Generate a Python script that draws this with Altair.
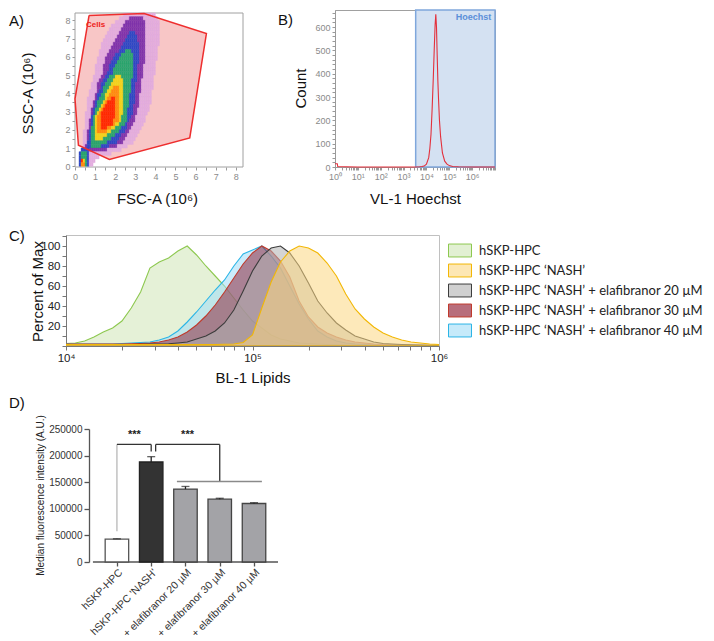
import altair as alt
import pandas as pd

FONT = "Liberation Sans"

# ---------------- Panel A: FSC/SSC density with "Cells" gate ----------------
A_gate_x = [0.70, 3.44, 6.54, 5.71, 1.71, 0.17, 0.00, 0.70]
A_gate_y = [8.27, 8.37, 7.27, 1.55, 0.37, 1.15, 3.70, 8.27]
A_frame = [0.0, 8.36, -0.04, 8.4]
# density: (row centre y, [(level, x from, x to), ...])
A_rows = [
    (8.3, [(1, 2.4, 4.0)]),
    (8.1, [(1, 2.2, 4.1), (2, 2.7, 3.4)]),
    (7.9, [(1, 2.0, 4.15), (2, 2.5, 3.5)]),
    (7.7, [(1, 1.85, 4.2), (2, 2.4, 3.55)]),
    (7.5, [(1, 1.7, 4.2), (2, 2.3, 3.55)]),
    (7.3, [(1, 1.6, 4.2), (2, 2.2, 3.55), (3, 2.7, 3.0)]),
    (7.1, [(1, 1.5, 4.2), (2, 2.1, 3.55), (3, 2.6, 3.1)]),
    (6.9, [(1, 1.45, 4.15), (2, 2.0, 3.55), (3, 2.5, 3.15)]),
    (6.7, [(1, 1.35, 4.15), (2, 1.9, 3.55), (3, 2.4, 3.2)]),
    (6.5, [(1, 1.3, 4.1), (2, 1.85, 3.5), (3, 2.3, 3.2)]),
    (6.3, [(1, 1.25, 4.1), (2, 1.75, 3.5), (3, 2.2, 3.2), (4, 2.5, 2.8)]),
    (6.1, [(1, 1.2, 4.1), (2, 1.65, 3.5), (3, 2.05, 3.2), (4, 2.35, 2.85)]),
    (5.9, [(1, 1.15, 4.05), (2, 1.55, 3.45), (3, 1.9, 3.2), (4, 2.2, 2.9)]),
    (5.7, [(1, 1.1, 4.0), (2, 1.5, 3.45), (3, 1.8, 3.2), (4, 2.1, 2.9)]),
    (5.5, [(1, 1.05, 4.0), (2, 1.45, 3.4), (3, 1.75, 3.15), (4, 2.0, 2.9)]),
    (5.3, [(1, 1.0, 4.0), (2, 1.4, 3.4), (3, 1.7, 3.15), (4, 1.95, 2.9)]),
    (5.1, [(1, 0.98, 3.95), (2, 1.38, 3.38), (3, 1.64, 3.13), (4, 1.89, 2.89)]),
    (4.9, [(1, 0.92, 3.93), (2, 1.3, 3.35), (3, 1.55, 3.1), (4, 1.75, 2.85), (5, 2.0, 2.3)]),
    (4.7, [(1, 0.87, 3.9), (2, 1.22, 3.33), (3, 1.45, 3.08), (4, 1.62, 2.82), (5, 1.9, 2.35)]),
    (4.5, [(1, 0.82, 3.88), (2, 1.15, 3.3), (3, 1.33, 3.05), (4, 1.5, 2.8), (5, 1.82, 2.39)]),
    (4.3, [(1, 0.78, 3.86), (2, 1.1, 3.28), (3, 1.26, 3.03), (4, 1.43, 2.78), (5, 1.75, 2.39), (6, 1.95, 2.2)]),
    (4.1, [(1, 0.74, 3.84), (2, 1.06, 3.26), (3, 1.2, 3.01), (4, 1.36, 2.76), (5, 1.65, 2.39), (6, 1.8, 2.22)]),
    (3.9, [(1, 0.69, 3.82), (2, 1.02, 3.24), (3, 1.13, 2.99), (4, 1.3, 2.74), (5, 1.55, 2.39), (6, 1.7, 2.22)]),
    (3.7, [(1, 0.65, 3.8), (2, 0.98, 3.22), (3, 1.06, 2.97), (4, 1.23, 2.72), (5, 1.48, 2.39), (6, 1.64, 2.22), (7, 1.8, 2.02)]),
    (3.5, [(1, 0.63, 3.75), (2, 0.93, 3.2), (3, 1.01, 2.95), (4, 1.15, 2.7), (5, 1.38, 2.39), (6, 1.5, 2.22), (7, 1.65, 2.03)]),
    (3.3, [(1, 0.6, 3.7), (2, 0.88, 3.17), (3, 0.96, 2.92), (4, 1.07, 2.67), (5, 1.26, 2.39), (6, 1.36, 2.22), (7, 1.5, 2.05)]),
    (3.1, [(1, 0.58, 3.66), (2, 0.84, 3.14), (3, 0.92, 2.9), (4, 1.01, 2.65), (5, 1.18, 2.39), (6, 1.27, 2.22), (7, 1.4, 2.05)]),
    (2.9, [(1, 0.55, 3.6), (2, 0.8, 3.1), (3, 0.88, 2.85), (4, 0.96, 2.62), (5, 1.1, 2.37), (6, 1.2, 2.2), (7, 1.33, 2.02)]),
    (2.7, [(1, 0.52, 3.55), (2, 0.77, 3.05), (3, 0.85, 2.8), (4, 0.93, 2.6), (5, 1.05, 2.34), (6, 1.14, 2.17), (7, 1.3, 2.0)]),
    (2.5, [(1, 0.49, 3.49), (2, 0.74, 2.99), (3, 0.82, 2.74), (4, 0.91, 2.56), (5, 0.99, 2.32), (6, 1.1, 2.15), (7, 1.28, 1.95)]),
    (2.3, [(1, 0.47, 3.4), (2, 0.71, 2.9), (3, 0.79, 2.65), (4, 0.87, 2.45), (5, 0.98, 2.2), (6, 1.1, 2.0), (7, 1.3, 1.85)]),
    (2.1, [(1, 0.46, 3.3), (2, 0.68, 2.8), (3, 0.76, 2.56), (4, 0.84, 2.33), (5, 0.98, 2.0), (6, 1.12, 1.8), (7, 1.35, 1.6)]),
    (1.9, [(1, 0.45, 3.22), (2, 0.65, 2.72), (3, 0.73, 2.47), (4, 0.81, 2.22), (5, 0.98, 1.81), (6, 1.14, 1.56)]),
    (1.7, [(1, 0.43, 3.1), (2, 0.62, 2.6), (3, 0.7, 2.33), (4, 0.81, 2.0), (5, 1.0, 1.6)]),
    (1.5, [(1, 0.42, 3.0), (2, 0.59, 2.5), (3, 0.67, 2.2), (4, 0.81, 1.75), (5, 1.05, 1.35)]),
    (1.3, [(1, 0.4, 2.89), (2, 0.56, 2.39), (3, 0.65, 2.06), (4, 0.81, 1.56)]),
    (1.1, [(1, 0.4, 2.6), (2, 0.55, 2.1), (3, 0.62, 1.7), (4, 0.8, 1.3)]),
    (0.9, [(1, 0.35, 2.3), (2, 0.5, 1.6), (3, 0.3, 0.7)]),
    (0.7, [(1, 0.25, 1.8), (3, 0.25, 0.7), (4, 0.35, 0.55)]),
    (0.5, [(1, 0.2, 1.2), (3, 0.22, 0.72), (4, 0.3, 0.6)]),
    (0.3, [(1, 0.2, 1.0), (3, 0.22, 0.72), (4, 0.28, 0.6), (5, 0.3, 0.5), (7, 0.32, 0.42)]),
    (0.1, [(1, 0.2, 0.9), (3, 0.22, 0.7), (4, 0.28, 0.55), (6, 0.3, 0.45)]),
]
A_levels = [1, 2, 3, 4, 5, 6, 7]
A_level_colors = ["#e3addf", "#8034ac", "#3048c4", "#2ba56e", "#f2d31c", "#ff8c10", "#ff2a00"]
A_ticks = [0, 0.5, 1, 1.5, 2, 2.5, 3, 3.5, 4, 4.5, 5, 5.5, 6, 6.5, 7, 7.5, 8]

# ---------------- Panel B: Hoechst histogram ----------------
B_exp = [0.0, 0.1, 0.12, 0.5, 1.0, 2.0, 3.0, 3.5, 3.7, 3.8, 3.9, 4.0, 4.1, 4.15, 4.2, 4.25, 4.3,
         4.34, 4.38, 4.41, 4.44, 4.47, 4.5, 4.53, 4.57, 4.62, 4.7, 4.8, 4.9, 5.0, 5.15, 5.4, 6.0, 7.0]
B_count = [14, 14, 2, 1, 0, 0, 0, 0, 1, 2, 4, 12, 40, 80, 140, 250, 380,
           500, 610, 655, 600, 480, 370, 290, 200, 130, 60, 25, 12, 6, 2, 1, 0, 0]
B_gate_exp = [3.53, 7.0]
B_ymax = 673

# ---------------- Panel C: lipid histograms ----------------
C_exp = [4.00, 4.05, 4.10, 4.15, 4.20, 4.25, 4.30, 4.35, 4.40, 4.45, 4.50, 4.55, 4.60, 4.65,
         4.70, 4.75, 4.80, 4.85, 4.90, 4.95, 5.00, 5.05, 5.10, 5.15, 5.20, 5.25, 5.30, 5.35,
         5.40, 5.45, 5.50, 5.55, 5.60, 5.65, 5.70, 5.75, 5.80, 5.85, 5.90, 5.95, 6.00]
C_series = ["hSKP-HPC", "hSKP-HPC \u2018NASH\u2019",
            "hSKP-HPC \u2018NASH\u2019 + elafibranor 20 \u00b5M",
            "hSKP-HPC \u2018NASH\u2019 + elafibranor 30 \u00b5M",
            "hSKP-HPC \u2018NASH\u2019 + elafibranor 40 \u00b5M"]
C_ctrl = [2.5, 3, 5, 9, 14, 18, 25, 38, 54, 78, 84, 88, 95, 100, 91, 80, 70, 60, 48, 36,
          25, 18, 11, 7, 5, 3, 2.5, 2, 1.5, 1.2, 1, 1, 0.8, 0.8, 0.6, 0.6, 0.5, 0.5, 0.5, 0.5, 0.5]
C_nash = [1.5, 1.5, 1.5, 1.5, 1.5, 1.5, 1.5, 1.5, 1.5, 1.5, 1.5, 1.5, 1.5, 1.5, 1.5, 1.5, 1.5,
          1.8, 2, 3.5, 11, 38, 64, 84, 95, 100, 98, 93, 83, 70, 52, 37, 27, 19, 13, 9, 6, 4, 3, 2, 1.5]
C_e20 = [1.5, 1.5, 1.5, 1.5, 1.5, 1.5, 1.5, 1.5, 1.8, 2, 2, 2.2, 3, 4, 7, 10, 15, 23, 36, 55,
         75, 90, 98, 100, 93, 80, 63, 45, 33, 23, 16, 10, 7, 4, 2.5, 2, 1.5, 1.2, 1, 0.8, 0.6]
C_e30 = [2, 2, 2, 2, 2, 2, 2, 2.2, 2.5, 3, 4, 6, 9, 14, 21, 30, 41, 54, 68, 82,
         93, 100, 95, 85, 69, 45, 29, 19, 13, 9, 6, 4, 3, 2, 1.5, 1.2, 1, 0.8, 0.7, 0.6, 0.5]
C_e40 = [2, 2, 2, 2, 2, 2, 2.5, 3, 3.5, 4, 6, 9, 15, 24, 34, 45, 56, 66, 80, 92,
         96, 100, 90, 78, 60, 42, 27, 15, 9, 5, 3, 2, 1.5, 1.2, 1, 1, 0.8, 0.8, 0.6, 0.5, 0.5]
C_fill = ["#cfe6b6", "#fcd782", "#b1b1b1", "#902a40", "#a0dcf7"]
C_swatch = ["#e2f0d3", "#fde7b4", "#d0d0d0", "#b86e7c", "#c6eafa"]
C_stroke = ["#8dc84f", "#f2b705", "#3c3c3c", "#c0392b", "#2bb5e6"]
# drawing order of the overlaid histograms (bottom to top)
C_draw_order = [0, 4, 3, 2, 1]

# ---------------- Panel D: median fluorescence bars ----------------
D_groups = ["hSKP-HPC", "hSKP-HPC 'NASH'", "+ elafibranor 20 \u00b5M",
            "+ elafibranor 30 \u00b5M", "+ elafibranor 40 \u00b5M"]
D_pos = [0, 1, 2, 3, 4]
D_values = [43000, 188000, 137000, 118000, 110000]
D_errors = [600, 10000, 5000, 1800, 1500]
D_fill = ["#ffffff", "#333333", "#a3a3a7", "#a3a3a7", "#a3a3a7"]
D_stroke = ["#555555", "#222222", "#444444", "#444444", "#444444"]
D_xline = [-0.7, 4.7]
# significance brackets (x in bar index units, y in A.U.)
D_br_x = [0.0, 0.0, 1.0, 1.13, 1.13, 3.0, 1.75]
D_br_x2 = [0.0, 1.0, 1.0, 1.13, 3.0, 3.0, 4.23]
D_br_y = [57600, 221000, 221000, 207600, 221000, 221000, 151300]
D_br_y2 = [221000, 221000, 207600, 221000, 221000, 151300, 151300]
D_br_col = ["#b8b8b8", "#333333", "#333333", "#333333", "#333333", "#333333", "#8a8a8a"]
D_star_x = [0.51, 2.06]
D_star_y = [238000, 238000]
D_star_t = ["***", "***"]


SUP = {0: "\u2070", 1: "\u00b9", 2: "\u00b2", 3: "\u00b3", 4: "\u2074", 5: "\u2075", 6: "\u2076", 7: "\u2077"}


def sup_expr(exps):
    parts = [f"datum.value == {10 ** e} ? '10{SUP[e]}'" for e in exps]
    return " : ".join(parts) + " : ''"


def log_ticks(e0, e1):
    vals = []
    for e in range(e0, e1):
        for m in range(1, 10):
            vals.append(m * 10 ** e)
    vals.append(10 ** e1)
    return vals


def spacer(x, y):
    return alt.Chart(pd.DataFrame({"s": [0]})).mark_point(
        opacity=0, size=1, strokeWidth=0, filled=True
    ).encode(x=alt.value(x), y=alt.value(y))


def panel_label(text, x, y):
    return alt.Chart(pd.DataFrame({"t": [text]})).mark_text(
        align="left", baseline="top", fontSize=15, font=FONT, color="#111"
    ).encode(text="t:N", x=alt.value(x), y=alt.value(y))


LEFT_T = dict(titleAngle=270, titleBaseline="bottom", titleAlign="center")
BOTTOM_T = dict(titleBaseline="top", titleAlign="center")

# ================= Panel A =================
A_xs = alt.Scale(domain=[-0.448, 8.36], nice=False, zero=False)
A_ys = alt.Scale(domain=[-0.04, 8.565], nice=False, zero=False)
small_axis = dict(grid=False, tickSize=3, tickColor="#9a9a9a", domainColor="#9a9a9a",
                  labelColor="#8a8a8a", labelFontSize=9, labelFont=FONT, titleFont=FONT,
                  titleFontSize=15, titleFontWeight="normal", titleColor="#111")
A_lab = "datum.value % 1 == 0 ? format(datum.value, 'd') : ''"
A_xaxis = alt.Axis(values=A_ticks, labelExpr=A_lab, title="FSC-A (10\u2076)", titleY=24, titleX=91,
                   labelFlush=False, domain=False, **BOTTOM_T, **small_axis)
A_yaxis = alt.Axis(values=A_ticks, labelExpr=A_lab, title="SSC-A (10\u2076)", titleX=-40, titleY=83,
                   offset=-9, domain=False, **LEFT_T, **small_axis)


def AX(f):
    return alt.X(f, type="quantitative", scale=A_xs, axis=A_xaxis)


def AY(f):
    return alt.Y(f, type="quantitative", scale=A_ys, axis=A_yaxis)


gate_df = pd.DataFrame({"gx": A_gate_x, "gy": A_gate_y, "i": list(range(len(A_gate_x)))})
cells = []
for yc, ranges in A_rows:
    for k in range(50):
        xc = (k + 0.5) * 0.1
        lv = max([l for (l, a, b) in ranges if a <= xc <= b], default=0)
        if lv:
            cells.append({"x0": k * 0.1, "x1": (k + 1) * 0.1, "y0": yc - 0.1, "y1": yc + 0.1, "lvl": lv})
cells_df = pd.DataFrame(cells)

A_box = alt.Chart(pd.DataFrame({"x0": [A_frame[0]], "x1": [A_frame[1]], "y0": [A_frame[2]],
                                "y1": [A_frame[3]]})).mark_rect(
    fill="white", stroke="#a0a0a0", strokeWidth=1).encode(x=AX("x0"), x2="x1", y=AY("y0"), y2="y1")
A_fill = alt.Chart(gate_df).mark_line(fill="#f8c6c6", strokeOpacity=0).encode(
    x=AX("gx"), y=AY("gy"), order="i:Q")
A_cells = alt.Chart(cells_df).mark_rect(strokeWidth=0.4).encode(
    x=AX("x0"), x2="x1", y=AY("y0"), y2="y1",
    fill=alt.Fill("lvl:O", scale=alt.Scale(domain=A_levels, range=A_level_colors), legend=None),
    stroke=alt.Stroke("lvl:O", scale=alt.Scale(domain=A_levels, range=A_level_colors), legend=None))
A_line = alt.Chart(gate_df).mark_line(color="#ee2e2e", strokeWidth=1.5).encode(
    x=AX("gx"), y=AY("gy"), order="i:Q")
A_txt = alt.Chart(pd.DataFrame({"tx": [0.55], "ty": [7.75], "t": ["Cells"]})).mark_text(
    align="left", baseline="middle", fontSize=8, fontWeight="bold", color="#ee2020", font=FONT
).encode(x=AX("tx"), y=AY("ty"), text="t:N")

panelA = alt.layer(
    A_box, A_fill, A_cells, A_line, A_txt,
    panel_label("A)", -57, 4), spacer(-57, 2), spacer(0, 210)
).properties(width=177, height=157, view=alt.ViewBackground(stroke="transparent"))

# ================= Panel B =================
B_xs = alt.Scale(type="log", domain=[1, 10 ** 7], nice=False)
B_ys = alt.Scale(domain=[0, B_ymax], nice=False, zero=False)
B_xaxis = alt.Axis(values=log_ticks(0, 7), labelExpr=sup_expr([0, 1, 2, 3, 4, 5, 6]),
                   title="VL-1 Hoechst", titleY=24, titleX=80, labelFlush=False, labelOverlap=False,
                   **BOTTOM_T, **small_axis)
B_yaxis = alt.Axis(values=list(range(0, 661, 20)), labelExpr="datum.value % 100 == 0 ? datum.label : ''",
                   title="Count", titleX=-27, titleY=78, labelOverlap=False, **LEFT_T, **small_axis)


def BX(f):
    return alt.X(f, type="quantitative", scale=B_xs, axis=B_xaxis)


def BY(f):
    return alt.Y(f, type="quantitative", scale=B_ys, axis=B_yaxis)


B_gate = alt.Chart(pd.DataFrame({"x0": [10 ** B_gate_exp[0]], "x1": [10 ** B_gate_exp[1]],
                                 "y0": [0], "y1": [B_ymax]})).mark_rect(
    fill="#d4e1f2", stroke="#7fa7dc", strokeWidth=1.5).encode(x=BX("x0"), x2="x1", y=BY("y0"), y2="y1")
B_df = pd.DataFrame({"x": [10 ** e for e in B_exp], "c": B_count})
B_line = alt.Chart(B_df).mark_line(color="#e3303c", strokeWidth=1.1).encode(x=BX("x"), y=BY("c"))
B_txt = alt.Chart(pd.DataFrame({"tx": [10 ** 6.84], "ty": [662], "t": ["Hoechst"]})).mark_text(
    align="right", baseline="top", fontSize=9, fontWeight="bold", color="#5b8fd9", font=FONT
).encode(x=BX("tx"), y=BY("ty"), text="t:N")

panelB = alt.layer(
    B_gate, B_line, B_txt, panel_label("B)", -57, 3), spacer(-57, 2)
).properties(width=160, height=157, view=alt.ViewBackground(stroke="#a0a0a0"))

row1 = alt.hconcat(panelA, panelB, spacing=33).resolve_scale(
    fill="independent", stroke="independent", color="independent")

# ================= Panel C =================
C_all = [C_ctrl, C_nash, C_e20, C_e30, C_e40]
C_rows = []
for idx in C_draw_order:
    for e, v in zip(C_exp, C_all[idx]):
        C_rows.append({"x": 10 ** e, "v": v, "series": C_series[idx]})
C_df = pd.DataFrame(C_rows)
C_axis_style = dict(grid=False, tickSize=4, tickColor="#777", domainColor="#777", labelColor="#222",
                    labelFontSize=11.5, labelFont=FONT, titleFont=FONT, titleFontSize=15,
                    titleFontWeight="normal", titleColor="#111")
C_legend = alt.Legend(title=None, orient="none", legendX=384, legendY=5.5,
                      symbolType="M-1.21,-0.68H1.21V0.68H-1.21Z", symbolSize=361, symbolStrokeWidth=1,
                      labelFont="Lato", labelFontSize=13, labelColor="#222", labelOffset=9,
                      rowPadding=1, padding=0, labelLimit=400)
C_X = alt.X("x:Q", scale=alt.Scale(type="log", domain=[10 ** 4, 10 ** 6], nice=False),
            axis=alt.Axis(values=log_ticks(4, 6), labelExpr=sup_expr([4, 5, 6]), title="BL-1 Lipids",
                          titleY=24, labelFlush=False, labelOverlap=False, **BOTTOM_T, **C_axis_style))
C_Y = alt.Y("v:Q", stack=None, scale=alt.Scale(domain=[0, 111], nice=False),
            axis=alt.Axis(values=list(range(0, 111, 10)),
                          labelExpr="datum.value % 20 == 0 && datum.value > 0 ? datum.label : ''",
                          title="Percent of Max", titleX=-21, titleY=56, **LEFT_T, **C_axis_style))
C_area = alt.Chart(C_df).mark_area(fillOpacity=0.55, strokeWidth=1.1, clip=True).encode(
    x=C_X, y=C_Y,
    fill=alt.Fill("series:N", scale=alt.Scale(domain=C_series, range=C_fill), legend=None),
    stroke=alt.Stroke("series:N", scale=alt.Scale(domain=C_series, range=C_stroke), legend=None),
)
# legend key layer (no marks drawn: its rows are filtered away, only the legend remains)
C_key = alt.Chart(C_df).transform_filter("datum.v > 1000").mark_area(strokeWidth=1, clip=True).encode(
    x=C_X, y=C_Y,
    fill=alt.Fill("series:N", scale=alt.Scale(domain=C_series, range=C_swatch), legend=C_legend),
    stroke=alt.Stroke("series:N", scale=alt.Scale(domain=C_series, range=C_stroke), legend=C_legend),
)
panelC = alt.layer(
    C_area, C_key, panel_label("C)", -57, -6), spacer(-57, -13), spacer(0, 156)
).resolve_scale(fill="independent", stroke="independent").properties(
    width=373, height=111, view=alt.ViewBackground(stroke="#c0c0c0"))

# ================= Panel D =================
D_df = pd.DataFrame({"pos": D_pos, "name": D_groups, "value": D_values, "err": D_errors})
D_df["top"] = D_df["value"] + D_df["err"]
D_xs = alt.Scale(domain=[-1.34, 4.7], nice=False, zero=False)
D_ys = alt.Scale(domain=[0, 250000], nice=False)
D_lab = " : ".join([f"datum.value == {i} ? \"{g}\"" for i, g in zip(D_pos, D_groups)]) + " : ''"
D_axis_style = dict(grid=False, tickColor="#555", domainColor="#555", domainWidth=1.3,
                    tickWidth=1.3, labelColor="#333", labelFont=FONT, titleFont=FONT,
                    titleFontWeight="normal", titleColor="#222")
D_xaxis = alt.Axis(values=D_pos, labelExpr=D_lab, labelAngle=-45, title=None, labelFontSize=10.5,
                   tickSize=4, labelPadding=1, labelOverlap=False, labelFlush=False, domain=False,
                   **D_axis_style)
D_yaxis = alt.Axis(values=[0, 50000, 100000, 150000, 200000, 250000], format="d",
                   title="Median fluorescence intensity (A.U.)", titleFontSize=10, labelFontSize=10,
                   tickSize=5, titleX=-44, titleY=66, offset=-23, **LEFT_T, **D_axis_style)


def DX(f):
    return alt.X(f, type="quantitative", scale=D_xs, axis=D_xaxis)


def DY(f):
    return alt.Y(f, type="quantitative", scale=D_ys, axis=D_yaxis)


D_base = alt.Chart(pd.DataFrame({"x": [D_xline[0]], "x2": [D_xline[1]], "y": [0]})).mark_rule(
    color="#555", strokeWidth=1.3).encode(x=DX("x"), x2="x2", y=DY("y"))
D_bars = alt.Chart(D_df).mark_bar(width=23.5, strokeWidth=1.3).encode(
    x=DX("pos"), y=DY("value"),
    fill=alt.Fill("name:N", scale=alt.Scale(domain=D_groups, range=D_fill), legend=None),
    stroke=alt.Stroke("name:N", scale=alt.Scale(domain=D_groups, range=D_stroke), legend=None))
D_err = alt.Chart(D_df).mark_rule(color="#222", strokeWidth=1.3).encode(x=DX("pos"), y=DY("value"), y2="top")
D_cap = alt.Chart(D_df).mark_tick(orient="horizontal", size=8, thickness=1.3, color="#222").encode(
    x=DX("pos"), y=DY("top"))
br_df = pd.DataFrame({"x": D_br_x, "x2": D_br_x2, "y": D_br_y, "y2": D_br_y2, "c": D_br_col})
D_br = alt.Chart(br_df).mark_rule(strokeWidth=1.3).encode(
    x=DX("x"), x2="x2", y=DY("y"), y2="y2", color=alt.Color("c:N", scale=None))
D_star = alt.Chart(pd.DataFrame({"x": D_star_x, "y": D_star_y, "t": D_star_t})).mark_text(
    fontSize=11, fontWeight="bold", color="#222", font=FONT, baseline="middle").encode(
    x=DX("x"), y=DY("y"), text="t:N")

panelD = alt.layer(
    D_base, D_bars, D_err, D_cap, D_br, D_star, panel_label("D)", -57, -33), spacer(-57, -36)
).properties(width=217, height=133, view=alt.ViewBackground(stroke="transparent"))

chart = alt.vconcat(row1, panelC, panelD, spacing=0).resolve_scale(
    fill="independent", stroke="independent", color="independent"
).properties(padding=0, background="white").configure(font=FONT)

chart.save("out.html", embed_options={"renderer": "svg", "actions": False})
